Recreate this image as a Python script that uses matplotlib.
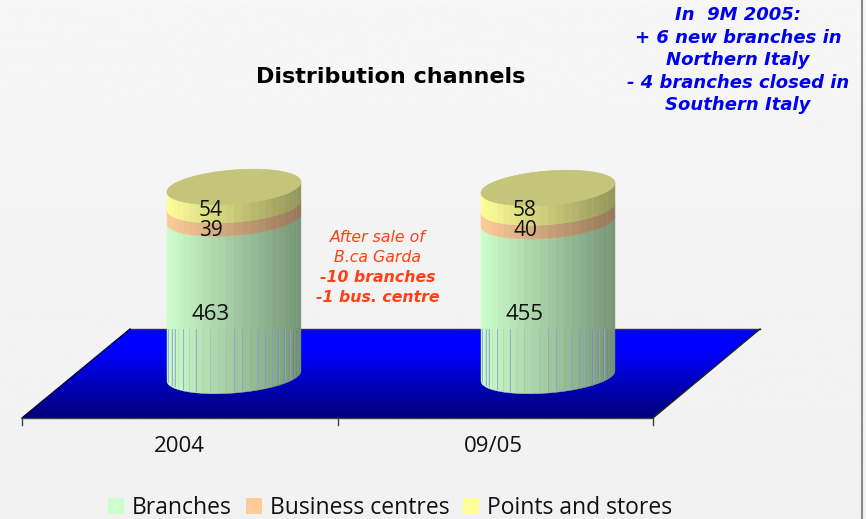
import numpy as np
import matplotlib
matplotlib.use("Agg")
import matplotlib.pyplot as plt
from matplotlib.patches import Polygon, Patch

# dane
categories = ["2004", "09/05"]
branches = [463, 455]
business_centres = [39, 40]
points_stores = [54, 58]
series_names = ["Branches", "Business centres", "Points and stores"]
series_colors = ["#ccffcc", "#ffcc99", "#ffff99"]
title_text = "Distribution channels"
note_lines = ["In  9M 2005:", "+ 6 new branches in", "Northern Italy",
              "- 4 branches closed in", "Southern Italy"]
sale_lines = ["After sale of", "B.ca Garda", "-10 branches", "-1 bus. centre"]

# geometria w pikselach
W, H = 866, 519
SCALE = 0.34
BASE_Y = 376
RX, RY = 67, 17
TILT = -0.075
centres = [234, 548]
tick_x = [22, 338, 653]
FLOOR = [(22, 418), (653, 418), (760, 329), (130, 329)]
LINE_OFFSETS = [-66, -62, -59, -51, -38, 0, 8, 23, 32, 39, 45, 51, 56]
LABEL_FONT = "Open Sans"
top_label_y = [210, 210]
mid_label_y = [231, 231]


def shade(color, f):
    return np.array(matplotlib.colors.to_rgb(color)) * f


def front_y(cx, x, level):
    dx = x - cx
    return level + TILT * dx + RY * np.sqrt(np.clip(1 - (dx / RX) ** 2, 0, 1))


def draw_segment(ax, cx, bottom, top, color):
    edges = cx + RX * np.cos(np.linspace(np.pi, 0, 27))
    for i in range(len(edges) - 1):
        x0, x1 = edges[i], edges[i + 1]
        f = 1.0 - 0.42 * ((x0 + x1) / 2 - (cx - RX)) / (2 * RX)
        c = shade(color, f)
        pts = [(x0, front_y(cx, x0, top)), (x1, front_y(cx, x1, top)),
               (x1, front_y(cx, x1, bottom)), (x0, front_y(cx, x0, bottom))]
        ax.add_patch(Polygon(pts, closed=True, fc=c, ec=c, lw=0.3, zorder=4))


def draw_cylinder(ax, cx, values):
    level = BASE_Y
    for val, col in zip(values, series_colors):
        top = level - val * SCALE
        draw_segment(ax, cx, level, top, col)
        level = top
    ts = np.linspace(0, 2 * np.pi, 120)
    xs = cx + RX * np.cos(ts)
    ys = level + TILT * (xs - cx) + RY * np.sin(ts)
    ax.add_patch(Polygon(np.column_stack([xs, ys]), closed=True,
                         fc="#c4c47a", ec="#c4c47a", lw=0.5, zorder=5))
    # cienkie linie widoczne na tle niebieskiej podlogi
    for off in LINE_OFFSETS:
        e = cx + off
        ax.plot([e, e], [329, front_y(cx, e, BASE_Y) - 2], color="#8fa6c8",
                lw=0.6, zorder=6)


fig = plt.figure(figsize=(W / 100, H / 100), dpi=100)
ax = fig.add_axes([0, 0, 1, 1])
ax.set_xlim(0, W)
ax.set_ylim(H, 0)
ax.axis("off")

# tlo
bg = np.linspace(0.965, 0.945, 256).reshape(-1, 1)
ax.imshow(bg, extent=[0, W, H, 0], cmap="gray", vmin=0, vmax=1, aspect="auto", zorder=0)
ax.plot([861.5, 861.5], [0, H], color="#8a8a8a", lw=1.5, zorder=1)

# podloga z gradientem
grad = np.zeros((256, 1, 3))
grad[:, 0, 2] = np.concatenate([np.full(60, 1.0), np.linspace(1.0, 0.47, 196)])
floor_img = ax.imshow(grad, extent=[22, 760, 418, 329], aspect="auto", zorder=2)
floor_patch = Polygon(FLOOR, closed=True, transform=ax.transData, fc="none", ec="none")
ax.add_patch(floor_patch)
floor_img.set_clip_path(floor_patch)
ax.set_xlim(0, W)
ax.set_ylim(H, 0)
ax.plot([130, 760], [329, 329], color="#303050", lw=1, zorder=3)
ax.plot([22, 130], [418, 329], color="#000040", lw=1, zorder=3)
ax.plot([653, 760], [418, 329], color="#202020", lw=1, zorder=3)

# os X
ax.plot([tick_x[0], tick_x[-1]], [418, 418], color="#404040", lw=1, zorder=3)
for t in tick_x:
    ax.plot([t, t], [418, 425], color="#404040", lw=1, zorder=3)

for i, cx in enumerate(centres):
    draw_cylinder(ax, cx, [branches[i], business_centres[i], points_stores[i]])
    ax.text(cx - 55, 446, categories[i], ha="center", va="center", fontsize=16,
            family=LABEL_FONT, color="#111111", zorder=8)
    lx = cx - 23
    ax.text(lx, 314, str(branches[i]), ha="center", va="center", fontsize=16,
            family=LABEL_FONT, color="#111111", zorder=8)
    ax.text(lx, mid_label_y[i], str(business_centres[i]), ha="center", va="center",
            fontsize=15, family=LABEL_FONT, color="#111111", zorder=8)
    ax.text(lx, top_label_y[i], str(points_stores[i]), ha="center", va="center",
            fontsize=15, family=LABEL_FONT, color="#111111", zorder=8)

ax.text(391, 77, title_text, ha="center", va="center", fontsize=16,
        fontweight="bold", color="#000000", zorder=8)

note_y = [15, 38, 60, 83, 105]
for y, line in zip(note_y, note_lines):
    ax.text(738, y, line, ha="center", va="center", fontsize=13, color="#0000f0",
            fontweight="bold", style="italic", zorder=8)

sale_y = [238, 258, 277, 297]
sale_bold = [False, False, True, True]
for y, line, bold in zip(sale_y, sale_lines, sale_bold):
    ax.text(378, y, line, ha="center", va="center", fontsize=11.3, color="#ff4015",
            style="italic", fontweight="bold" if bold else "normal", zorder=8)

# legenda
handles = [Patch(fc=c, ec="none") for c in series_colors]
fig.legend(handles, series_names, loc="center", bbox_to_anchor=(390 / W, 1 - 508 / H),
           ncols=3, frameon=False, prop={"family": LABEL_FONT, "size": 16.5},
           handlelength=0.7, handleheight=0.7, handletextpad=0.35, columnspacing=0.6,
           labelcolor="#111111")

fig.savefig("out.png", dpi=100)
